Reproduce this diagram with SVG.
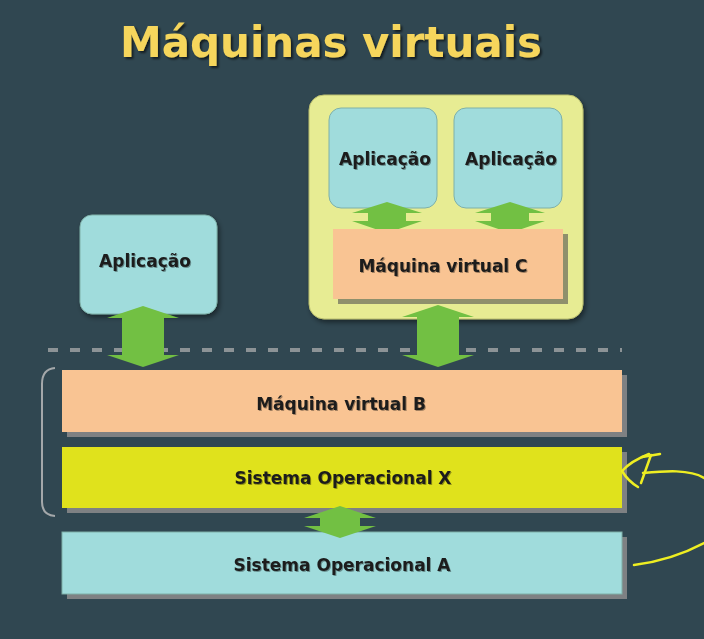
<svg xmlns="http://www.w3.org/2000/svg" width="704" height="639" viewBox="0 0 704 639">
  <defs>
    <style>
      .lbl { font-family: "DejaVu Sans", Verdana, sans-serif; font-weight: bold; font-size: 17px; fill: #1c1c1c; text-anchor: middle; }
      .title { font-family: "DejaVu Sans", Verdana, sans-serif; font-weight: bold; font-size: 42.5px; fill: #f6d65c; text-anchor: middle; }
      .app { fill: #a0dcdc; stroke: #7fb0a8; stroke-width: 1; }
      .vm { fill: #f9c493; }
      .shadow { fill: #7e8183; }
      .shadow-c { fill: #8f906c; }
      .arrow { fill: #72c043; }
      .ink { fill: none; stroke: #eeee22; stroke-width: 2.5; stroke-linecap: round; stroke-linejoin: round; }
    </style>
    <filter id="soft" x="-10%" y="-10%" width="130%" height="130%">
      <feDropShadow dx="2" dy="3" stdDeviation="2.5" flood-color="#000" flood-opacity="0.45"/>
    </filter>
    <filter id="txt" x="-5%" y="-20%" width="110%" height="140%">
      <feDropShadow dx="1" dy="1" stdDeviation="0.6" flood-color="#000" flood-opacity="0.35"/>
    </filter>
    <filter id="ttl" x="-5%" y="-20%" width="110%" height="140%">
      <feDropShadow dx="2" dy="2" stdDeviation="1" flood-color="#000" flood-opacity="0.6"/>
    </filter>
  </defs>

  <!-- background -->
  <rect x="0" y="0" width="704" height="639" fill="#304751"/>

  <!-- title -->
  <text class="title" x="331" y="57" textLength="422" lengthAdjust="spacingAndGlyphs" filter="url(#ttl)">Máquinas virtuais</text>

  <!-- container holding VM C and its applications -->
  <g id="container-c">
    <rect x="309" y="95" width="274" height="224" rx="15" ry="15" fill="#e7ec93" stroke="#b9bd6e" stroke-width="1" filter="url(#soft)"/>
  </g>

  <g id="app-left">
    <rect class="app" x="80" y="215" width="137" height="99" rx="12" ry="12" filter="url(#soft)"/>
    <text class="lbl" x="145" y="267" filter="url(#txt)">Aplicação</text>
  </g>

  <g id="app-c1">
    <rect class="app" x="329" y="108" width="108" height="100" rx="12" ry="12"/>
    <text class="lbl" x="385" y="165" filter="url(#txt)">Aplicação</text>
  </g>

  <g id="app-c2">
    <rect class="app" x="454" y="108" width="108" height="100" rx="12" ry="12"/>
    <text class="lbl" x="511" y="165" filter="url(#txt)">Aplicação</text>
  </g>

  <!-- dashed boundary -->
  <line x1="48" y1="350" x2="622" y2="350" stroke="#8c9396" stroke-width="4" stroke-dasharray="10 12"/>

  <!-- bracket grouping VM B and OS X -->
  <path d="M 55 368 Q 42 369 42 384 L 42 502 Q 42 515 55 516" fill="none" stroke="#a4a8aa" stroke-width="2"/>

  <g id="vm-b">
    <rect class="shadow" x="67" y="375" width="560" height="62"/>
    <rect class="vm" x="62" y="370" width="560" height="62"/>
    <text class="lbl" x="341" y="410" filter="url(#txt)">Máquina virtual B</text>
  </g>

  <g id="os-x">
    <rect class="shadow" x="67" y="452" width="560" height="61"/>
    <rect x="62" y="447" width="560" height="61" fill="#e0e21c"/>
    <text class="lbl" x="343" y="484" filter="url(#txt)">Sistema Operacional X</text>
  </g>

  <g id="os-a">
    <rect class="shadow" x="67" y="537" width="560" height="62"/>
    <rect class="app" x="62" y="532" width="560" height="62" stroke="none"/>
    <text class="lbl" x="342" y="571" filter="url(#txt)">Sistema Operacional A</text>
  </g>

  <!-- double-headed connectors -->
  <g id="connectors">
    <polygon class="arrow" points="143,306 179,318 164,318 164,355 179,355 143,367 107,355 122,355 122,318 107,318"/>
    <polygon class="arrow" points="438,305 474,317 459,317 459,355 474,355 438,367 402,355 417,355 417,317 402,317"/>
    <polygon class="arrow" points="387,202 422,213 406,213 406,221 422,221 387,233 352,221 368,221 368,213 352,213"/>
    <polygon class="arrow" points="510,202 545,213 529,213 529,221 545,221 510,233 475,221 491,221 491,213 475,213"/>
    <polygon class="arrow" points="340,506 376,518 360,518 360,526 376,526 340,538 304,526 320,526 320,518 304,518"/>
  </g>

  <g id="vm-c">
    <rect class="shadow-c" x="338" y="234" width="230" height="70"/>
    <rect class="vm" x="333" y="229" width="230" height="70"/>
    <text class="lbl" x="443" y="272" filter="url(#txt)">Máquina virtual C</text>
  </g>

  <!-- hand-drawn annotations -->
  <g id="annotations">
    <path class="ink" d="M 643 473 C 665 471 690 469 704 478"/>
    <path class="ink" d="M 642 457 L 660 454"/>
    <path class="ink" d="M 651 455 L 641 483"/>
    <path class="ink" d="M 649 454 Q 631 461 622 471 Q 628 481 638 487"/>
    <path class="ink" d="M 634 565 Q 672 560 704 543"/>
  </g>
</svg>
